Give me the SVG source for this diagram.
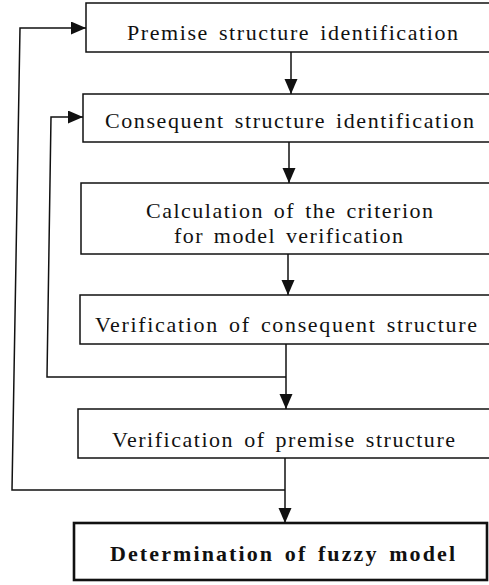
<svg xmlns="http://www.w3.org/2000/svg" width="489" height="585" viewBox="0 0 489 585">
  <style>
    .box { fill: #ffffff; stroke: #111; stroke-width: 1.5; }
    .final { fill: #ffffff; stroke: #111; stroke-width: 2.6; }
    .lbl { font-family: "Liberation Serif", "Times New Roman", serif; font-size: 22px; word-spacing: 3px; fill: #111; }
    .bold { font-weight: bold; }
    .wire { fill: none; stroke: #111; stroke-width: 1.5; }
  </style>
  <defs>
    <marker id="arrow" markerUnits="userSpaceOnUse" markerWidth="16" markerHeight="14" refX="15" refY="6.5" orient="auto">
      <path d="M0,0 L15,6.5 L0,13 Z" fill="#111"/>
    </marker>
  </defs>

  <rect width="489" height="585" fill="#ffffff"/>

  <!-- steps -->
  <g id="premise-id">
    <rect class="box" x="86" y="3" width="420" height="49"/>
    <text class="lbl" x="127" y="40" textLength="331" lengthAdjust="spacing">Premise structure identification</text>
  </g>
  <g id="consequent-id">
    <rect class="box" x="83" y="94" width="420" height="48"/>
    <text class="lbl" x="105" y="128" textLength="369" lengthAdjust="spacing">Consequent structure identification</text>
  </g>
  <g id="criterion">
    <rect class="box" x="81" y="183" width="420" height="71"/>
    <text class="lbl" x="146" y="218" textLength="287" lengthAdjust="spacing">Calculation of the criterion</text>
    <text class="lbl" x="174" y="243" textLength="229" lengthAdjust="spacing">for model verification</text>
  </g>
  <g id="verify-consequent">
    <rect class="box" x="80" y="295" width="420" height="49"/>
    <text class="lbl" x="95" y="332" textLength="382" lengthAdjust="spacing">Verification of consequent structure</text>
  </g>
  <g id="verify-premise">
    <rect class="box" x="78" y="409" width="420" height="49"/>
    <text class="lbl" x="112" y="447" textLength="343" lengthAdjust="spacing">Verification of premise structure</text>
  </g>
  <g id="fuzzy-model">
    <rect class="final" x="74" y="523" width="413" height="57"/>
    <text class="lbl bold" x="110" y="561" textLength="345" lengthAdjust="spacing">Determination of fuzzy model</text>
  </g>

  <!-- connectors -->
  <g id="connectors">
    <path class="wire" d="M291,52 V94" marker-end="url(#arrow)"/>
    <path class="wire" d="M289,142 V183" marker-end="url(#arrow)"/>
    <path class="wire" d="M288,254 V295" marker-end="url(#arrow)"/>
    <path class="wire" d="M286,344 V409" marker-end="url(#arrow)"/>
    <path class="wire" d="M285,458 V523" marker-end="url(#arrow)"/>
    <!-- inner feedback loop -->
    <path class="wire" d="M286,377 H47 L51,117 H83" marker-end="url(#arrow)"/>
    <!-- outer feedback loop -->
    <path class="wire" d="M285,490 H12 L20,28 H86" marker-end="url(#arrow)"/>
  </g>
</svg>
